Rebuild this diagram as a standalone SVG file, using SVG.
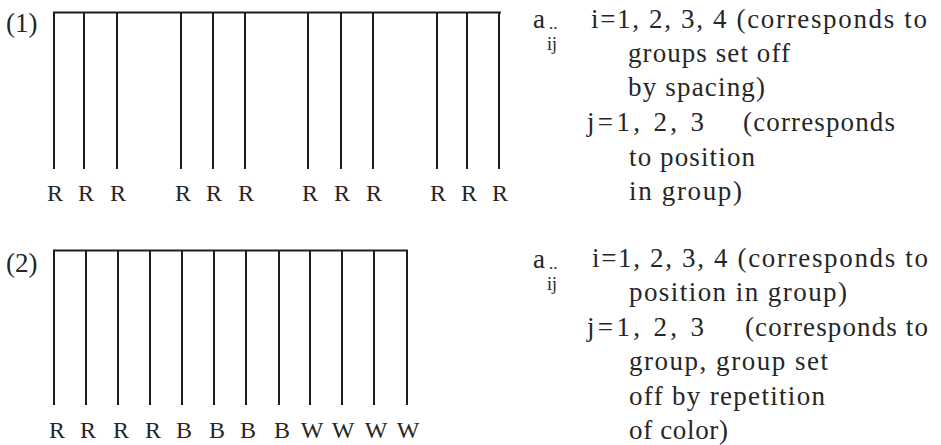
<svg xmlns="http://www.w3.org/2000/svg" width="941" height="445" viewBox="0 0 941 445">
<style>
.ln{stroke:#1e1e1e;stroke-width:2;fill:none;stroke-linecap:square}
.t{font-family:"Liberation Serif","Times New Roman",serif;font-size:27px;fill:#262626}
.dots{font-size:17px}
.sub{font-size:18px}
.r{font-family:"Liberation Serif","Times New Roman",serif;font-size:24px;fill:#262626;text-anchor:middle}
</style>
<rect width="941" height="445" fill="#ffffff"/>
<g id="fig1">
  <text class="t" x="6" y="32">(1)</text>
  <g id="fig1-lines">
    <path class="ln" d="M54,12.5H500M54,12.5V168M84,12.5V168M117,12.5V168M181,12.5V168M213,12.5V168M245,12.5V168M308,12.5V168M341,12.5V168M373,12.5V168M437,12.5V168M467,12.5V168M499,12.5V168"/>
  </g>
  <g id="fig1-labels">
    <text class="r" x="55" y="201">R</text>
    <text class="r" x="86" y="201">R</text>
    <text class="r" x="118" y="201">R</text>
    <text class="r" x="183" y="201">R</text>
    <text class="r" x="214" y="201">R</text>
    <text class="r" x="246" y="201">R</text>
    <text class="r" x="310" y="201">R</text>
    <text class="r" x="342" y="201">R</text>
    <text class="r" x="374" y="201">R</text>
    <text class="r" x="438" y="201">R</text>
    <text class="r" x="469" y="201">R</text>
    <text class="r" x="500" y="201">R</text>
  </g>
  <g id="fig1-text">
    <text class="t" x="533" y="28">a<tspan class="dots" x="549" y="29">..</tspan></text>
    <text class="t sub" x="547" y="50">ij</text>
    <text class="t" x="591" y="28" textLength="336">i=1, 2, 3, 4 (corresponds to</text>
    <text class="t" x="628" y="62" textLength="162">groups set off</text>
    <text class="t" x="628" y="96" textLength="137">by spacing)</text>
    <text class="t" x="587" y="131" textLength="117">j=1, 2, 3</text>
    <text class="t" x="743" y="131" textLength="152">(corresponds</text>
    <text class="t" x="629" y="166" textLength="126">to position</text>
    <text class="t" x="629" y="200" textLength="113">in group)</text>
  </g>
</g>
<g id="fig2">
  <text class="t" x="6" y="272">(2)</text>
  <g id="fig2-lines">
    <path class="ln" d="M54,250.5H407M54,250.5V404M86,250.5V404M118,250.5V404M150,250.5V404M182,250.5V404M214,250.5V404M246,250.5V404M279,250.5V404M310,250.5V404M342,250.5V404M374,250.5V404M407,250.5V404"/>
  </g>
  <g id="fig2-labels">
    <text class="r" x="57" y="438">R</text>
    <text class="r" x="88" y="438">R</text>
    <text class="r" x="121" y="438">R</text>
    <text class="r" x="153" y="438">R</text>
    <text class="r" x="184" y="438">B</text>
    <text class="r" x="217" y="438">B</text>
    <text class="r" x="248" y="438">B</text>
    <text class="r" x="282" y="438">B</text>
    <text class="r" x="312" y="438">W</text>
    <text class="r" x="343" y="438">W</text>
    <text class="r" x="376" y="438">W</text>
    <text class="r" x="408" y="438">W</text>
  </g>
  <g id="fig2-text">
    <text class="t" x="533" y="268">a<tspan class="dots" x="549" y="269">..</tspan></text>
    <text class="t sub" x="547" y="290">ij</text>
    <text class="t" x="592" y="267" textLength="336">i=1, 2, 3, 4 (corresponds to</text>
    <text class="t" x="629" y="301" textLength="218">position in group)</text>
    <text class="t" x="587" y="336" textLength="117">j=1, 2, 3</text>
    <text class="t" x="745" y="336" textLength="183">(corresponds to</text>
    <text class="t" x="629" y="370" textLength="199">group, group set</text>
    <text class="t" x="629" y="405" textLength="196">off by repetition</text>
    <text class="t" x="629" y="439" textLength="99">of color)</text>
  </g>
</g>
</svg>
